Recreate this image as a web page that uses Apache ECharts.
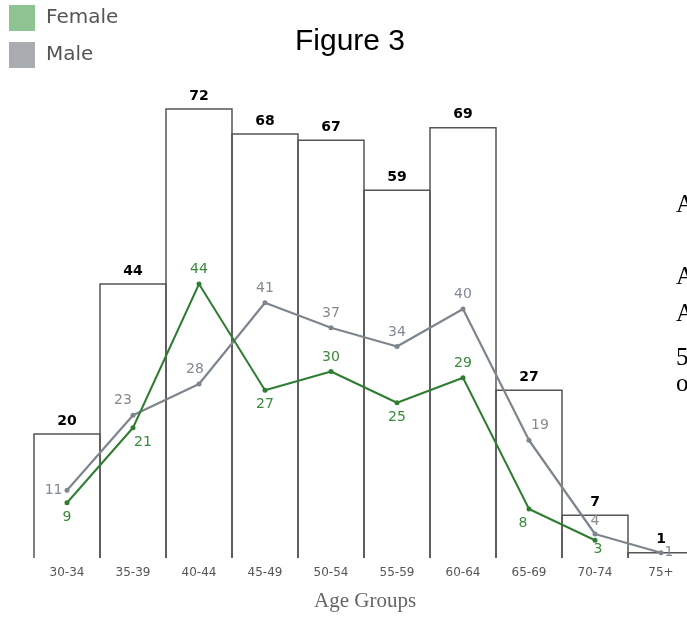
<!DOCTYPE html>
<html>
<head>
<meta charset="utf-8">
<script src="https://cdn.jsdelivr.net/npm/echarts@6/dist/echarts.min.js"></script>
<style>
  html, body { margin: 0; padding: 0; background: #fff; overflow: hidden; }
  /* canvas is a little wider than the window, so the last bar runs off the edge */
  #chart { width: 700px; height: 617px; }
</style>
</head>
<body>
<div id="chart"></div>
<script>
// Age groups and counts
const ageGroups = ['30-34', '35-39', '40-44', '45-49', '50-54', '55-59', '60-64', '65-69', '70-74', '75+'];
const totals = [20, 44, 72, 68, 67, 59, 69, 27, 7, 1];
const female = [9, 21, 44, 27, 30, 25, 29, 8, 3, null];
const male = [11, 23, 28, 41, 37, 34, 40, 19, 4, 1];

// Where each point label sits relative to its marker
const femaleLabelPos = [
  { position: 'bottom' },
  { position: 'bottom', offset: [10, 0] },
  { position: 'top' },
  { position: 'bottom' },
  { position: 'top' },
  { position: 'bottom' },
  { position: 'top' },
  { position: 'bottom', offset: [-6, 0] },
  { position: 'bottom', distance: 0, offset: [3, 0] },
  { position: 'bottom' }
];
const maleLabelPos = [
  { position: 'left', distance: 2 },
  { position: 'top', offset: [-10, 0] },
  { position: 'top', offset: [-4, 0] },
  { position: 'top' },
  { position: 'top' },
  { position: 'top' },
  { position: 'top' },
  { position: 'top', offset: [11, 0] },
  { position: 'top', distance: 3 },
  { position: 'right', distance: 1 }
];

const GREEN = '#2f7d32';
const GREY = '#7d858d';

const PLOT_LEFT = 34;
const PLOT_WIDTH = 660;

function withLabels(values, positions, color) {
  return values.map((v, i) => ({
    value: v,
    label: Object.assign({ show: v !== null, color: color, fontSize: 14,
      fontFamily: 'DejaVu Sans' }, positions[i])
  }));
}

// Bar outline open at the bottom: left side, top, right side
function renderBarOutline(params, api) {
  const idx = api.value(0);
  const top = api.coord([idx, api.value(1)]);
  const base = api.coord([idx, 0]);
  const half = api.size([1, 0])[0] / 2;
  return {
    type: 'polyline',
    shape: {
      points: [
        [top[0] - half, base[1] - 1],
        [top[0] - half, top[1]],
        [top[0] + half, top[1]],
        [top[0] + half, base[1] - 1]
      ]
    },
    style: { fill: null, stroke: '#555', lineWidth: 1.5 }
  };
}

const chart = echarts.init(document.getElementById('chart'), null, { renderer: 'canvas' });

chart.setOption({
  animation: false,
  backgroundColor: '#fff',
  title: {
    text: 'Figure 3',
    left: 350,
    top: 27,
    padding: 0,
    textAlign: 'center',
    textStyle: { fontFamily: 'Liberation Sans', fontSize: 30, fontWeight: 'normal', color: '#000' }
  },
  legend: {
    orient: 'vertical',
    left: 9,
    top: 5,
    padding: 0,
    icon: 'rect',
    itemWidth: 26,
    itemHeight: 26,
    itemGap: 11,
    textStyle: { fontFamily: 'DejaVu Sans', fontSize: 20, color: '#555', padding: [0, 0, 0, 6] },
    data: [
      { name: 'Female', itemStyle: { color: '#8fc492' } },
      { name: 'Male', itemStyle: { color: '#a9adb2' } }
    ]
  },
  grid: { left: PLOT_LEFT, width: PLOT_WIDTH, top: 109, bottom: 58, containLabel: false },
  xAxis: {
    type: 'category',
    data: ageGroups,
    axisLine: { show: false },
    axisTick: { show: false },
    axisLabel: { color: '#555', fontSize: 12, fontFamily: 'DejaVu Sans', margin: 8 }
  },
  yAxis: {
    type: 'value',
    min: 0,
    max: 72,
    show: false,
    splitLine: { show: false }
  },
  graphic: [
    { type: 'text', left: 314, top: 591,
      style: { text: 'Age Groups', font: '21px "Liberation Serif"', fill: '#666' } },
    { type: 'text', x: 676, y: 205, style: { text: 'A', font: '25px "Liberation Serif"', fill: '#000', verticalAlign: 'middle' } },
    { type: 'text', x: 676, y: 277, style: { text: 'A', font: '25px "Liberation Serif"', fill: '#000', verticalAlign: 'middle' } },
    { type: 'text', x: 676, y: 314, style: { text: 'A', font: '25px "Liberation Serif"', fill: '#000', verticalAlign: 'middle' } },
    { type: 'text', x: 676, y: 358, style: { text: '5', font: '25px "Liberation Serif"', fill: '#000', verticalAlign: 'middle' } },
    { type: 'text', x: 676, y: 384, style: { text: 'o', font: '25px "Liberation Serif"', fill: '#000', verticalAlign: 'middle' } }
  ],
  series: [
    {
      // totals: transparent bars carry the value labels
      name: 'Total',
      type: 'bar',
      data: totals,
      barCategoryGap: 0,
      itemStyle: { color: 'rgba(0,0,0,0)' },
      label: { show: true, position: 'top', distance: 6, color: '#000', fontWeight: 'bold',
        fontSize: 14, fontFamily: 'DejaVu Sans' },
      z: 1
    },
    {
      name: 'Total outline',
      type: 'custom',
      data: totals.map((v, i) => [i, v]),
      renderItem: renderBarOutline,
      encode: { x: 0, y: 1 },
      z: 1
    },
    {
      name: 'Female',
      type: 'line',
      data: withLabels(female, femaleLabelPos, '#3a8a3c'),
      symbol: 'circle',
      symbolSize: 5,
      lineStyle: { color: GREEN, width: 2 },
      itemStyle: { color: GREEN },
      z: 3
    },
    {
      name: 'Male',
      type: 'line',
      data: withLabels(male, maleLabelPos, '#838a92'),
      symbol: 'circle',
      symbolSize: 5,
      lineStyle: { color: GREY, width: 2.2 },
      itemStyle: { color: GREY },
      z: 2
    }
  ]
});
</script>
</body>
</html>
